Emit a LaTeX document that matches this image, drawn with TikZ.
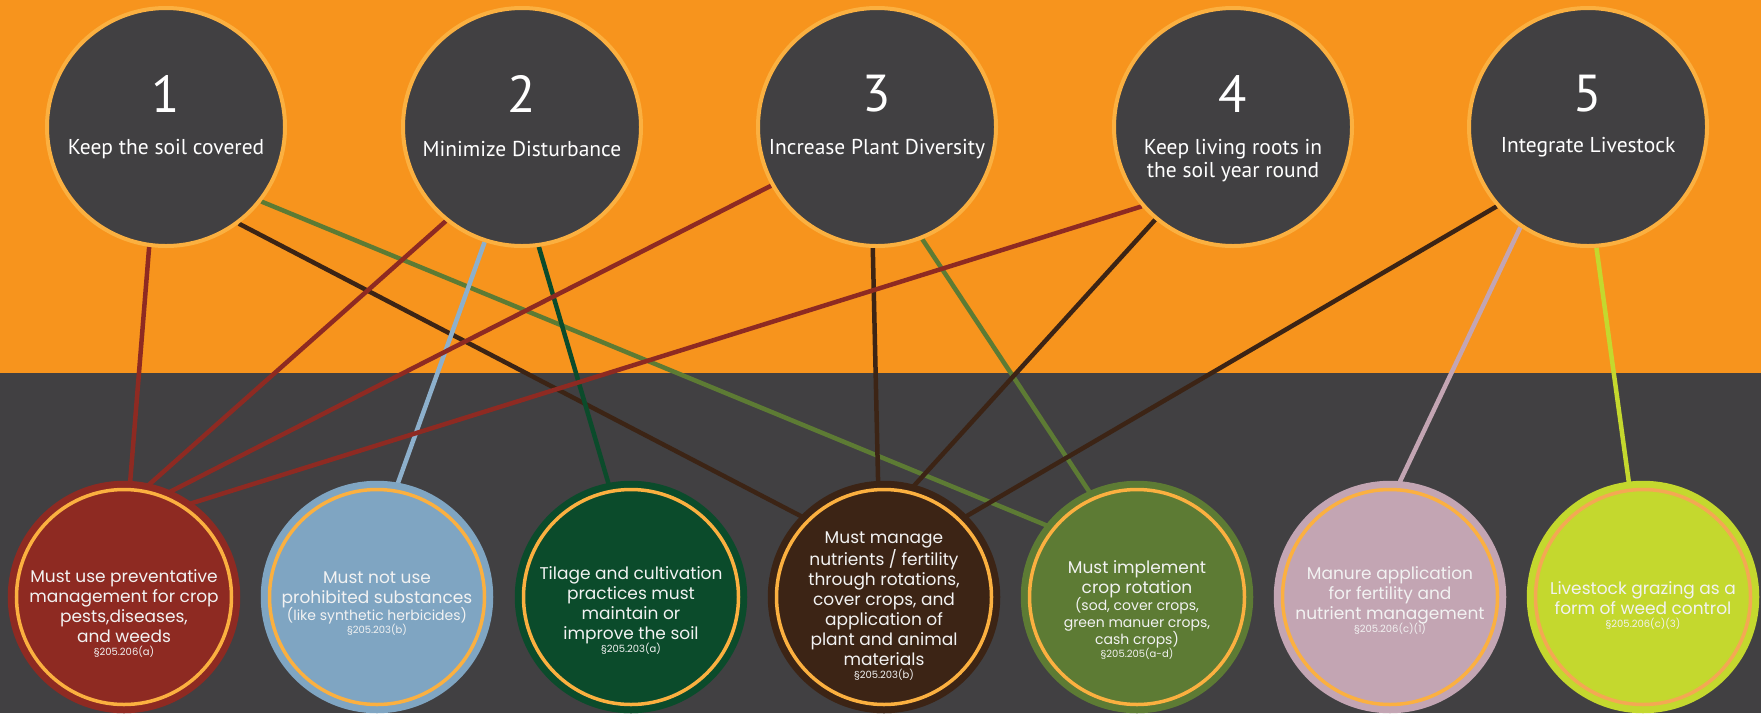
\documentclass[tikz,border=0pt]{standalone}
\usepackage{fontspec}
\setmainfont{Poppins}
\newfontfamily\headfont{PT Sans}

\definecolor{sky}{HTML}{F7941D}
\definecolor{slate}{HTML}{414042}
\definecolor{ringc}{HTML}{FBB040}
\definecolor{ringlime}{HTML}{F4A853}
\definecolor{soilred}{HTML}{8E2A22}
\definecolor{soilblue}{HTML}{7FA5C2}
\definecolor{wireblue}{HTML}{8DB0CC}
\definecolor{soilgreen}{HTML}{0B4B2B}
\definecolor{soilbrown}{HTML}{3C2415}
\definecolor{soilolive}{HTML}{5D7B34}
\definecolor{soilpink}{HTML}{C3A5B3}
\definecolor{soillime}{HTML}{C4D82E}
\definecolor{paper}{HTML}{F2F2F2}

\pgfdeclarelayer{back}
\pgfdeclarelayer{wires}
\pgfsetlayers{back,wires,main}

\tikzset{
  principle/.style={circle, fill=slate, draw=ringc, line width=4pt, minimum size=238pt},
  practice/.style={circle, fill=#1, draw=#1, double=ringc, double distance=3.5pt,
    line width=7pt, minimum size=215pt},
  num/.style={text=white, font=\headfont\fontsize{52}{52}\selectfont},
  ptext/.style={text=white, align=center, font=\headfont\fontsize{21.5}{23}\selectfont},
  rtext/.style={text=paper, align=center, font=\fontsize{17}{20}\selectfont},
  wire/.style={line width=4.5pt}
}
\newcommand{\sect}[1]{{\fontsize{10}{12}\selectfont #1}}
\newcommand{\paren}[1]{{\fontsize{14}{17}\selectfont #1}}

\begin{document}
\begin{tikzpicture}
		[x=1pt, y=-1pt, every node/.style={inner sep=0pt}]
		\useasboundingbox (0,0) rectangle (1761,713);
		\begin{pgfonlayer}{back}
		\fill[sky] (0,0) rectangle (1761,373);
		\fill[slate] (0,373) rectangle (1761,713);
		\end{pgfonlayer}
		
		% the five principles
		\node[principle] (p1) at (166,127) {};
		\node[principle] (p2) at (522,127) {};
		\node[principle] (p3) at (877,127) {};
		\node[principle] (p4) at (1233,127) {};
		\node[principle] (p5) at (1588,127) {};
		
		\node[num] (n1) at (166,94) {1};
		\node[num] (n2) at (522,94) {2};
		\node[num] (n3) at (877,94) {3};
		\node[num] (n4) at (1233,94) {4};
		\node[num] (n5) at (1588,94) {5};
		
		\node[ptext] (l1) at (166,149) {Keep the soil covered};
		\node[ptext] (l2) at (522,149) {Minimize Disturbance};
		\node[ptext] (l3) at (877,149) {Increase Plant Diversity};
		\node[ptext] (l4) at (1233,161) {Keep living roots in\\the soil year round};
		\node[ptext] (l5) at (1588,147) {Integrate Livestock};
		
		% the practices
		\node[practice=soilred] (b1) at (124,597) {};
		\node[practice=soilblue] (b2) at (377,597) {};
		\node[practice=soilgreen] (b3) at (631,597) {};
		\node[practice=soilbrown] (b4) at (884,597) {};
		\node[practice=soilolive] (b5) at (1137,597) {};
		\node[practice=soilpink] (b6) at (1390,597) {};
		\node[practice=soillime, double=ringlime] (b7) at (1643,597) {};
		
		\node[rtext] (t1) at (124,613) {Must use preventative\\management for crop\\pests,diseases,\\and weeds\\[-7pt]\sect{§205.206(a)}};
		\node[rtext] (t2) at (377,604) {Must not use\\prohibited substances\\[-3pt]\paren{(like synthetic herbicides)}\\[-7pt]\sect{§205.203(b)}};
		\node[rtext] (t3) at (631,610) {Tilage and cultivation\\practices must\\maintain or\\improve the soil\\[-7pt]\sect{§205.203(a)}};
		\node[rtext] (t4) at (884,606) {Must manage\\nutrients / fertility\\through rotations,\\cover crops, and\\application of\\plant and animal\\materials\\[-7pt]\sect{§205.203(b)}};
		\node[rtext] (t5) at (1137,610) {Must implement\\crop rotation\\[-3pt]\paren{(sod, cover crops,}\\[-3pt]\paren{green manuer crops,}\\[-3pt]\paren{cash crops)}\\[-7pt]\sect{§205.205(a-d)}};
		\node[rtext] (t6) at (1390,600) {Manure application\\for fertility and\\nutrient management\\[-7pt]\sect{§205.206(c)(1)}};
		\node[rtext] (t7) at (1643,605) {Livestock grazing as a\\form of weed control\\[-7pt]\sect{§205.206(c)(3)}};
		
		% links, kept under the circles
		\begin{pgfonlayer}{wires}
		\path (p1.262) edge[wire, soilred] (b1.87);
		\path (p1.307) edge[wire, soilbrown] (b4.135);
		\path (p1.322) edge[wire, soilolive] (b5.141);
		\path (p2.231) edge[wire, soilred] (b1.79);
		\path (p2.252) edge[wire, wireblue] (b2.80);
		\path (p2.278) edge[wire, soilgreen] (b3.101);
		\path (p3.209) edge[wire, soilred] (b1.68);
		\path (p3.268) edge[wire, soilbrown] (b4.93);
		\path (p3.292) edge[wire, soilolive] (b5.114);
		\path (p4.221) edge[wire, soilred] (b1.56);
		\path (p4.230) edge[wire, soilbrown] (b4.76);
		\path (p5.221) edge[wire, soilbrown] (b4.45);
		\path (p5.236) edge[wire, soilpink] (b6.86);
		\path (p5.274) edge[wire, soillime] (b7.97);
		\end{pgfonlayer}
		\end{tikzpicture}
\end{document}
